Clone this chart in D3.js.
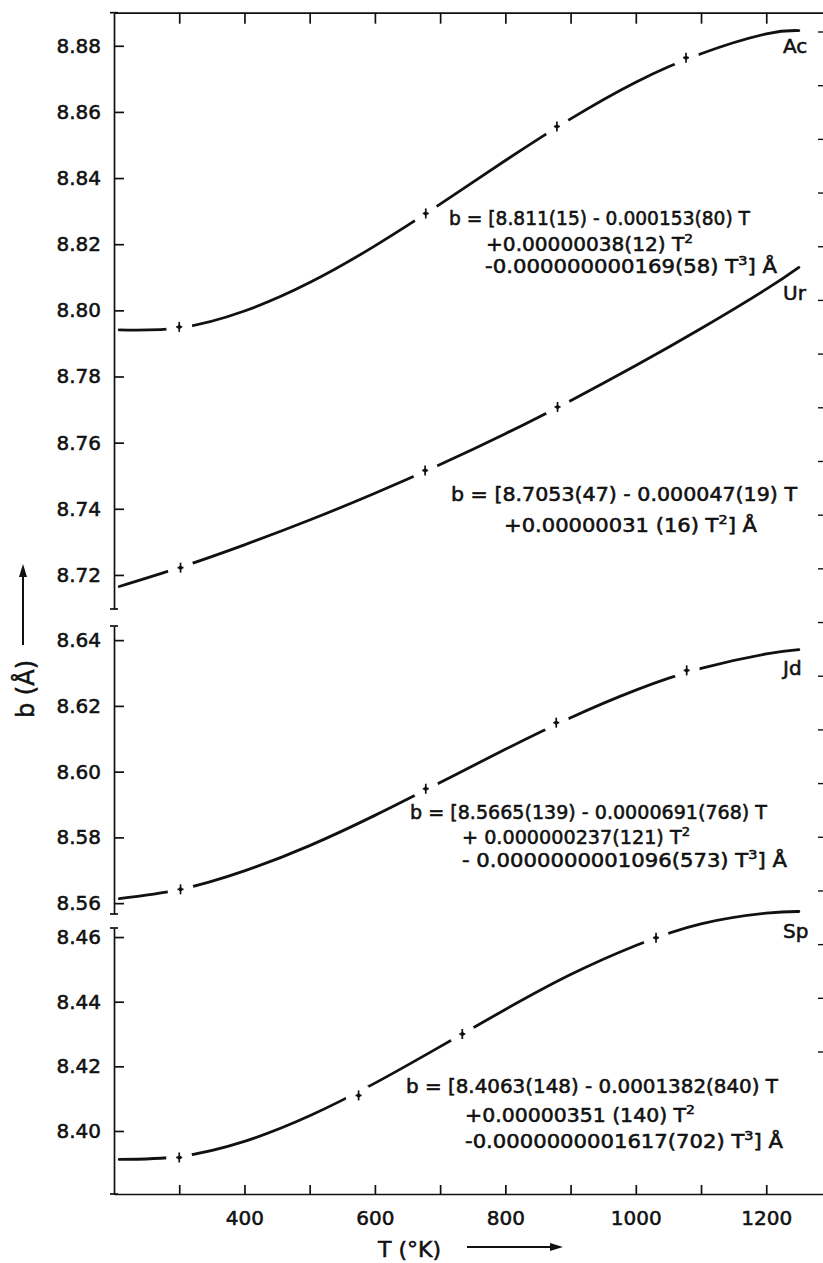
<!DOCTYPE html>
<html>
<head>
<meta charset="utf-8">
<script src="https://cdn.jsdelivr.net/npm/d3@7"></script>
<style>
  html, body { margin: 0; padding: 0; background: #fff; }
  svg { display: block; }
  text { font-family: "DejaVu Sans", "Liberation Sans", sans-serif; fill: #111; stroke: #111; stroke-width: 0.55px; }
</style>
</head>
<body>
<svg id="chart" width="823" height="1263"></svg>
<script>
// Temperature grid (K) at which the fitted b(T) curves are tabulated
const temps = [208, 300, 400, 500, 600, 700, 800, 900, 1000, 1100, 1200, 1250];

// b (Å) along each curve
const bAc = [8.7941, 8.7947, 8.7998, 8.8084, 8.8195, 8.8321, 8.8453, 8.8579, 8.8690, 8.8776, 8.8836, 8.8846];
const bUr = [8.7165, 8.7222, 8.7291, 8.7366, 8.7447, 8.7534, 8.7627, 8.7727, 8.7833, 8.7945, 8.8064, 8.8130];
const bJd = [8.5614, 8.5641, 8.5698, 8.5775, 8.5867, 8.5967, 8.6068, 8.6164, 8.6248, 8.6314, 8.6358, 8.6371];
const bSp = [8.3912, 8.3921, 8.3968, 8.4047, 8.4148, 8.4261, 8.4376, 8.4484, 8.4574, 8.4641, 8.4674, 8.4679];

// Measured points (temperature, b)
const ptsAcT = [300, 678, 879, 1077];
const ptsAcB = [8.7950, 8.8293, 8.8556, 8.8764];
const ptsUrT = [302, 677, 880];
const ptsUrB = [8.7222, 8.7516, 8.7708];
const ptsJdT = [302, 678, 878, 1078];
const ptsJdB = [8.5642, 8.5948, 8.6149, 8.6308];
const ptsSpT = [300, 575, 734, 1031];
const ptsSpB = [8.3918, 8.4110, 8.4300, 8.4598];

// Axis ticks
const xTicks = [300, 400, 500, 600, 700, 800, 900, 1000, 1100, 1200];
const xLabelled = [400, 600, 800, 1000, 1200];
const yTicksTop = [8.72, 8.74, 8.76, 8.78, 8.80, 8.82, 8.84, 8.86, 8.88];
const yTicksJd = [8.56, 8.58, 8.60, 8.62, 8.64];
const yTicksSp = [8.40, 8.42, 8.44, 8.46];
const rightTicks = d3.range(0, 20);

// Fitted expressions, one array of lines per mineral
const eqAc = ["b = [8.811(15) - 0.000153(80) T", "+0.00000038(12) T^2", "-0.000000000169(58) T^3] Å"];
const eqUr = ["b = [8.7053(47) - 0.000047(19) T", "+0.00000031 (16) T^2]  Å"];
const eqJd = ["b = [8.5665(139) - 0.0000691(768) T", "+ 0.000000237(121) T^2", "- 0.0000000001096(573) T^3]  Å"];
const eqSp = ["b = [8.4063(148) - 0.0001382(840) T", "+0.00000351 (140) T^2", "-0.0000000001617(702) T^3]  Å"];

const svg = d3.select("#chart");
const W = 823, H = 1263;
const plotL = 114, plotR = 823, plotT = 12.7, plotB = 1194;

const x = d3.scaleLinear().domain([200, 1287]).range([plotL, plotR]);

// Three stacked y ranges with breaks in between
const yTop = d3.scaleLinear().domain([8.7097, 8.8900]).range([609, plotT]);
const yJd  = d3.scaleLinear().domain([8.5567, 8.6443]).range([914, 626]);
const ySp  = d3.scaleLinear().domain([8.3805, 8.4628]).range([plotB, 928]);
const yRight = d3.scaleLinear().domain([0, 19]).range([32, 1052]);

const axisStroke = 1.7;
function styleAxis(g) {
  g.selectAll("path.domain").attr("stroke", "#111").attr("stroke-width", axisStroke);
  g.selectAll(".tick line").attr("stroke", "#111").attr("stroke-width", axisStroke);
  g.selectAll(".tick text").attr("font-size", 20).attr("fill", "#111")
    .style("font-family", '"DejaVu Sans", sans-serif');
}

// Left axis segments
[[yTop, yTicksTop], [yJd, yTicksJd], [ySp, yTicksSp]].forEach(([sc, ticks]) => {
  const g = svg.append("g").attr("transform", `translate(${plotL},0)`)
    .call(d3.axisLeft(sc).tickValues(ticks).tickFormat(d3.format(".2f"))
      .tickSize(-10).tickSizeOuter(0).tickPadding(13));
  styleAxis(g);
  // break caps at the ends of each segment
  sc.range().forEach(yy => {
    g.append("line").attr("x1", -4).attr("x2", 4).attr("y1", yy).attr("y2", yy)
      .attr("stroke", "#111").attr("stroke-width", axisStroke);
  });
});

// Bottom axis
const gx = svg.append("g").attr("transform", `translate(0,${plotB})`)
  .call(d3.axisBottom(x).tickValues(xTicks)
    .tickFormat(d => xLabelled.includes(d) ? String(d) : "")
    .tickSize(-9).tickSizeOuter(0).tickPadding(17));
styleAxis(gx);

// Top axis
const gt = svg.append("g").attr("transform", `translate(0,${plotT})`)
  .call(d3.axisTop(x).tickValues(xTicks).tickFormat("").tickSize(-11).tickSizeOuter(0));
styleAxis(gt);

// Right-hand tick stubs at the frame edge
svg.append("g").selectAll("line").data(rightTicks).join("line")
  .attr("x1", plotR - 5).attr("x2", plotR)
  .attr("y1", d => yRight(d)).attr("y2", d => yRight(d))
  .attr("stroke", "#111").attr("stroke-width", 1.4);

// Curves with gaps around the measured points
const defs = svg.append("defs");
const series = [
  {id: "ac", sc: yTop, vals: bAc, pT: ptsAcT, pB: ptsAcB},
  {id: "ur", sc: yTop, vals: bUr, pT: ptsUrT, pB: ptsUrB},
  {id: "jd", sc: yJd,  vals: bJd, pT: ptsJdT, pB: ptsJdB},
  {id: "sp", sc: ySp,  vals: bSp, pT: ptsSpT, pB: ptsSpB}
];

series.forEach(s => {
  const pts = s.pT.map((t, i) => [x(t), s.sc(s.pB[i])]);
  const m = defs.append("mask").attr("id", "gap-" + s.id)
    .attr("maskUnits", "userSpaceOnUse").attr("x", 0).attr("y", 0).attr("width", W).attr("height", H);
  m.append("rect").attr("width", W).attr("height", H).attr("fill", "#fff");
  m.selectAll("circle").data(pts).join("circle")
    .attr("cx", d => d[0]).attr("cy", d => d[1]).attr("r", 13).attr("fill", "#000");

  const line = d3.line().x(d => x(d[0])).y(d => s.sc(d[1])).curve(d3.curveNatural);
  svg.append("path")
    .datum(temps.map((t, i) => [t, s.vals[i]]))
    .attr("d", line)
    .attr("fill", "none").attr("stroke", "#111").attr("stroke-width", 2.8)
    .attr("stroke-linecap", "round")
    .attr("mask", `url(#gap-${s.id})`);

  const g = svg.append("g").selectAll("g").data(pts).join("g")
    .attr("transform", d => `translate(${d[0]},${d[1]})`);
  g.append("line").attr("x1", 0).attr("x2", 0).attr("y1", -5).attr("y2", 5)
    .attr("stroke", "#111").attr("stroke-width", 1.7);
  g.append("line").attr("x1", -3).attr("x2", 3).attr("y1", 0).attr("y2", 0)
    .attr("stroke", "#111").attr("stroke-width", 1.7);
  g.append("circle").attr("r", 2).attr("fill", "#111");
});

// Curve names
const names = [["Ac", 53], ["Ur", 300], ["Jd", 675], ["Sp", 938]];
svg.append("g").selectAll("text").data(names).join("text")
  .attr("x", 783).attr("y", d => d[1]).attr("font-size", 20).text(d => d[0]);

// Equations
function drawEq(lines, spec) {
  lines.forEach((ln, i) => {
    const [lx, ly, lw] = spec[i];
    const t = svg.append("text").attr("x", lx).attr("y", ly).attr("font-size", 19)
      .attr("textLength", lw).attr("lengthAdjust", "spacingAndGlyphs");
    const parts = ln.split(/\^(\d)/);
    let raised = false;
    parts.forEach((p, k) => {
      if (k % 2 === 1) {
        t.append("tspan").attr("dy", -8).attr("font-size", 13).text(p);
        raised = true;
      } else if (p.length) {
        const ts = t.append("tspan").text(p);
        if (raised) { ts.attr("dy", 8); raised = false; }
      }
    });
  });
}
drawEq(eqAc, [[449, 225, 301], [486, 251, 207], [485, 273, 292]]);
drawEq(eqUr, [[451, 501, 346], [504, 532, 253]]);
drawEq(eqJd, [[410, 819, 357], [462, 844, 228], [462, 867, 325]]);
drawEq(eqSp, [[406, 1093, 372], [465, 1122, 230], [465, 1148, 318]]);

// Axis titles with arrows
svg.append("text").attr("transform", "translate(34,689) rotate(-90)")
  .attr("text-anchor", "middle").attr("font-size", 24).text("b (Å)");
svg.append("line").attr("x1", 23).attr("x2", 23).attr("y1", 645).attr("y2", 574)
  .attr("stroke", "#111").attr("stroke-width", 2);
svg.append("path").attr("d", "M23,564 L19,577 L27,577 Z").attr("fill", "#111");

svg.append("text").attr("x", 378).attr("y", 1257).attr("font-size", 22).text("T (°K)");
svg.append("line").attr("x1", 467).attr("x2", 552).attr("y1", 1247).attr("y2", 1247)
  .attr("stroke", "#111").attr("stroke-width", 2);
svg.append("path").attr("d", "M563,1247 L550,1243 L550,1251 Z").attr("fill", "#111");
</script>
</body>
</html>
